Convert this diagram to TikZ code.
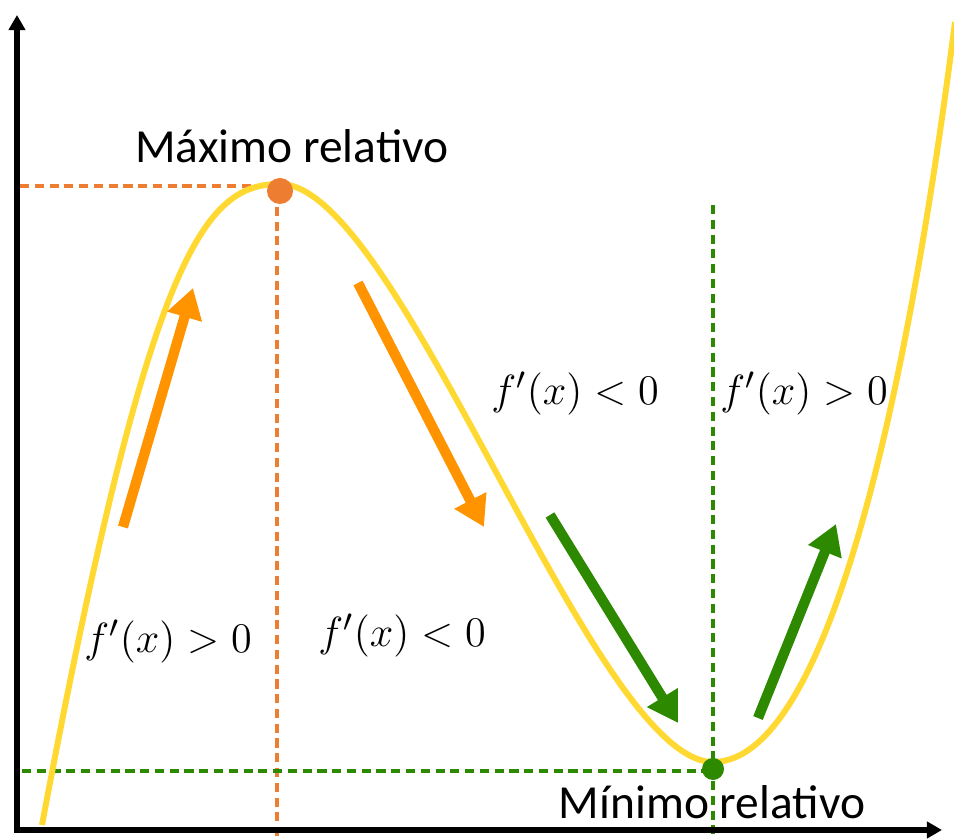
\documentclass[tikz,border=0pt]{standalone}
\usepackage{amsmath}
\usepackage{fontspec}
\setmainfont{Carlito}
\usetikzlibrary{arrows.meta}

\definecolor{curva}{RGB}{255,217,50}
\definecolor{naranja}{RGB}{255,147,0}
\definecolor{naranjaos}{RGB}{237,125,49}
\definecolor{verde}{RGB}{44,137,0}

\begin{document}
\begin{tikzpicture}[
    x=0.01cm, y=-0.01cm,
    eje/.style={line width=1.7pt, -{Triangle[length=4.3pt, width=4.6pt]}},
    guia/.style={line width=1pt, dash pattern=on 2.6pt off 1.6pt},
    flecha/.style={line width=2.9pt, -{Triangle[length=8.5pt, width=9.7pt]}},
    punto/.style={circle, inner sep=0pt},
    etiq/.style={font=\fontsize{13.5}{16}\selectfont, anchor=base},
    deriv/.style={font=\fontsize{12.2}{14}\selectfont, anchor=base}
]
\useasboundingbox (0,0) rectangle (954,840);

% puntos de la curva
\coordinate (ini) at (42,825);
\coordinate (max) at (280,184);
\coordinate (min) at (713,762);
\coordinate (fin) at (955,22);

% ejes
\coordinate (o) at (17,832);
\coordinate (ey) at (17,15);
\coordinate (ex) at (942,830);
\coordinate (ox) at (14,830);

% lineas guia
\coordinate (gmax) at (272,186);
\coordinate (gmin) at (713,771);
\draw[guia, naranjaos] (20,186) -- (gmax);
\draw[guia, naranjaos] (277,192) -- (277,840);
\draw[guia, verde] (22,771) -- (gmin);
\draw[guia, verde] (713,205) -- (713,840);

\draw[eje] (o) -- (ey);
\draw[eje] (ox) -- (ex);

% curva
\draw[curva, line width=1.7pt] (ini) .. controls (150,250) and (205,184) .. (max)
    .. controls (400,184) and (593,762) .. (min)
    .. controls (829,762) and (908,390) .. (fin);

% extremos
\node[punto, fill=naranjaos, minimum size=0.26cm] (pmax) at (280,191) {};
\node[punto, fill=verde, minimum size=0.22cm] (pmin) at (713,769) {};

% flechas
\coordinate (a1) at (123,527);
\coordinate (b1) at (193,288);
\coordinate (a2) at (358,283);
\coordinate (b2) at (484,527);
\coordinate (a3) at (550,515);
\coordinate (b3) at (678,723);
\coordinate (a4) at (758,718);
\coordinate (b4) at (836,524);
\draw[flecha, naranja] (a1) -- (b1);
\draw[flecha, naranja] (a2) -- (b2);
\draw[flecha, verde] (a3) -- (b3);
\draw[flecha, verde] (a4) -- (b4);

% etiquetas
\node[etiq] (tmax) at (292,163) {Máximo relativo};
\node[etiq] (tmin) at (712,818) {Mínimo relativo};
\node[deriv] (d1) at (168,653) {$f'(x) > 0$};
\node[deriv] (d2) at (402,647) {$f'(x) < 0$};
\node[deriv] (d3) at (575,405) {$f'(x) < 0$};
\node[deriv] (d4) at (804,405) {$f'(x) > 0$};
\end{tikzpicture}
\end{document}
